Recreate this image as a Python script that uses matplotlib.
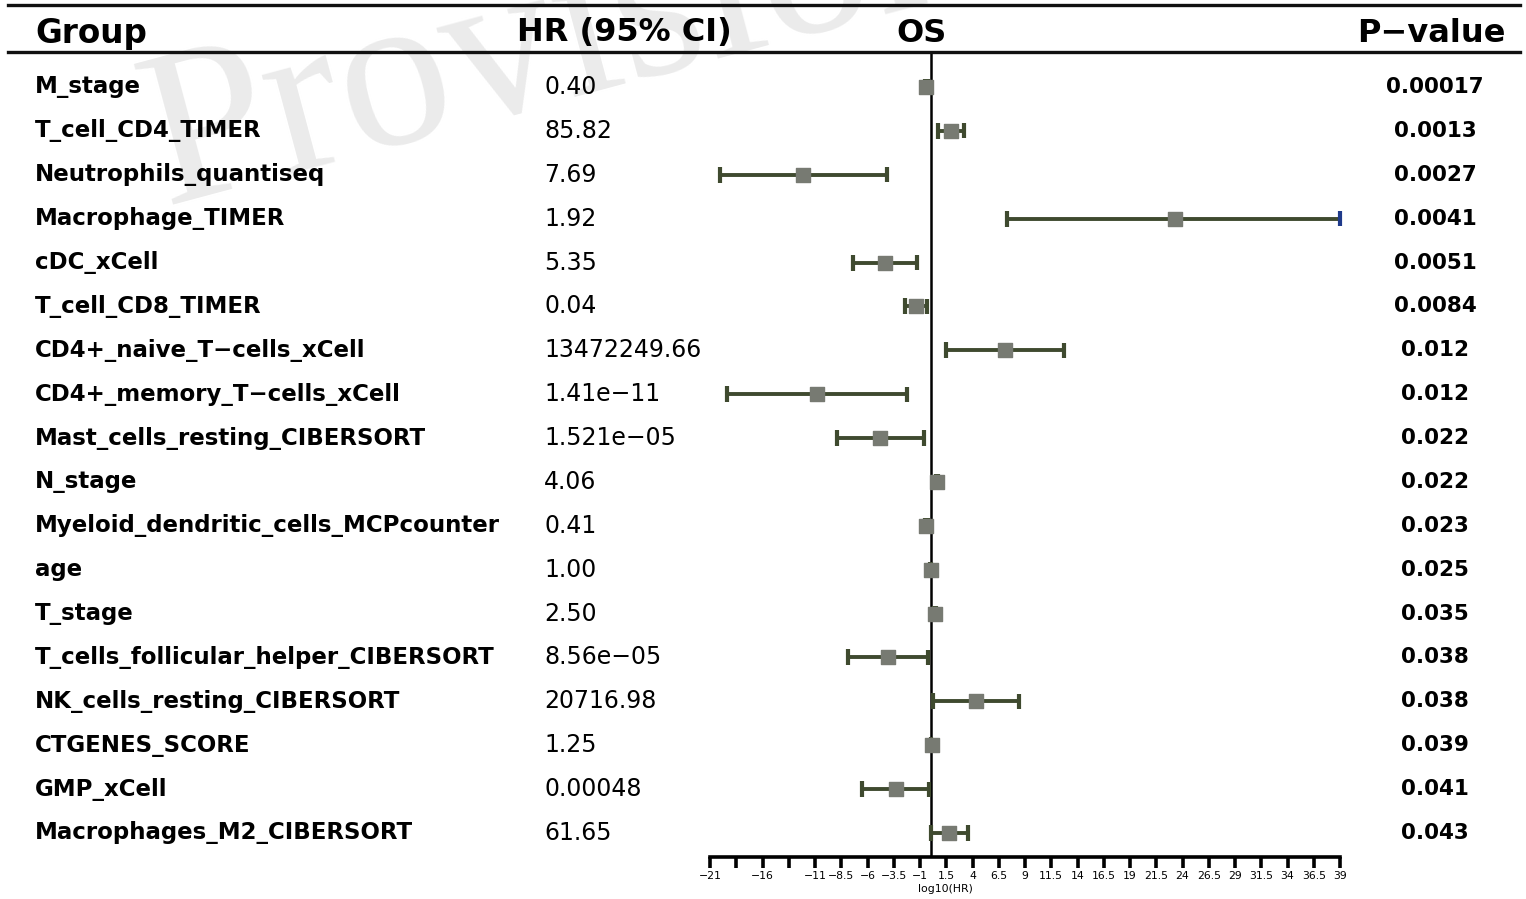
import numpy as np
import matplotlib
matplotlib.use("Agg")
import matplotlib.pyplot as plt
from matplotlib.lines import Line2D

# data
groups = ["M_stage", "T_cell_CD4_TIMER", "Neutrophils_quantiseq", "Macrophage_TIMER",
          "cDC_xCell", "T_cell_CD8_TIMER", "CD4+_naive_T\u2212cells_xCell",
          "CD4+_memory_T\u2212cells_xCell", "Mast_cells_resting_CIBERSORT", "N_stage",
          "Myeloid_dendritic_cells_MCPcounter", "age", "T_stage",
          "T_cells_follicular_helper_CIBERSORT", "NK_cells_resting_CIBERSORT",
          "CTGENES_SCORE", "GMP_xCell", "Macrophages_M2_CIBERSORT"]
hr_text = ["0.40", "85.82", "7.69", "1.92", "5.35", "0.04", "13472249.66",
           "1.41e\u221211", "1.521e\u221205", "4.06", "0.41", "1.00", "2.50",
           "8.56e\u221205", "20716.98", "1.25", "0.00048", "61.65"]
pvals = ["0.00017", "0.0013", "0.0027", "0.0041", "0.0051", "0.0084", "0.012",
         "0.012", "0.022", "0.022", "0.023", "0.025", "0.035", "0.038", "0.038",
         "0.039", "0.041", "0.043"]
# log10(HR) and its 95% CI
log_hr = [-0.40, 1.93, -12.1, 23.3, -4.3, -1.35, 7.13, -10.85, -4.82, 0.61,
          -0.39, 0.0, 0.40, -4.07, 4.32, 0.10, -3.32, 1.79]
ci_low = [-0.55, 0.70, -20.05, 7.3, -7.4, -2.45, 1.48, -19.4, -8.95, 0.50,
          -0.50, -0.05, 0.30, -7.9, 0.22, 0.0, -6.5, 0.05]
ci_high = [-0.25, 3.15, -4.15, 39.0, -1.3, -0.3, 12.7, -2.25, -0.65, 0.72,
           -0.28, 0.05, 0.50, -0.2, 8.4, 0.2, -0.1, 3.55]

W, H = 1526, 899
fig = plt.figure(figsize=(W / 100, H / 100), dpi=100)

def fx(px):
    return px / W

def fy(py):
    return 1 - py / H

# watermark
fig.text(fx(165), fy(205), "Provisional", fontsize=160, family="Liberation Serif",
         color="#ebebeb", rotation=15, rotation_mode="anchor", zorder=-5,
         ha="left", va="baseline")

# forest axis: x from -21 (px 710) to 39 (px 1340)
ax = fig.add_axes([fx(710), fy(857), fx(1340) - fx(710), fy(52) - fy(857)])
ax.patch.set_visible(False)
row0, step = 87, (833 - 87) / 17
ax.set_xlim(-21, 39)
ax.set_ylim((857 - row0) / step, (52 - row0) / step)

y = np.arange(len(groups))
lo = np.array(ci_low)
hi = np.array(ci_high)
est = np.array(log_hr)
green = "#3f4a2f"

ax.hlines(y, lo, hi, color=green, lw=2.8, zorder=2)
cap_cols = [("#1f3a8a" if h >= 39 else green) for h in hi]
ax.scatter(lo, y, marker="|", s=120, linewidths=3, color=green, zorder=3)
ax.scatter(hi, y, marker="|", s=120, linewidths=3, color=cap_cols, zorder=3, clip_on=False)
ax.scatter(est, y, marker="s", s=110, color="#777a72", zorder=4)
ax.axvline(0, color="black", lw=1.8, zorder=1)

for s in ["top", "right", "left"]:
    ax.spines[s].set_visible(False)
ax.spines["bottom"].set_linewidth(2.6)
ax.set_yticks([])
ticks = np.arange(-21, 39.01, 2.5)
labels = ["%g" % t for t in ticks]
labels = [("" if l in ("-18.5", "-13.5") else l.replace("-", "\u2212")) for l in labels]
ax.set_xticks(ticks)
ax.set_xticklabels(labels)
ax.tick_params(axis="x", direction="out", length=8, width=2.6, labelsize=7.8, pad=2)
ax.text(1.4, -0.034, "log10(HR)", transform=ax.get_xaxis_transform(), ha="center",
        va="top", fontsize=7.8)

# table columns
for i in range(len(groups)):
    yy = fy(row0 + i * step)
    fig.text(fx(35), yy, groups[i], fontsize=16.5, fontweight="bold", va="center", ha="left")
    fig.text(fx(544), yy, hr_text[i], fontsize=17, va="center", ha="left")
    fig.text(fx(1435), yy, pvals[i], fontsize=15.5, fontweight="bold", va="center", ha="center")

# header
hy = fy(33)
fig.text(fx(35), hy, "Group", fontsize=23.5, fontweight="bold", va="center", ha="left")
fig.text(fx(517), hy, "HR (95% CI)", fontsize=23, fontweight="bold", va="center", ha="left")
fig.text(fx(921), hy, "OS", fontsize=23, fontweight="bold", va="center", ha="center")
fig.text(fx(1505), hy, "P\u2212value", fontsize=23, fontweight="bold", va="center", ha="right")
for py in (5, 52):
    fig.add_artist(Line2D([fx(8), fx(1520)], [fy(py), fy(py)], color="#111111", lw=2.4))

fig.savefig("out.png", dpi=100)
